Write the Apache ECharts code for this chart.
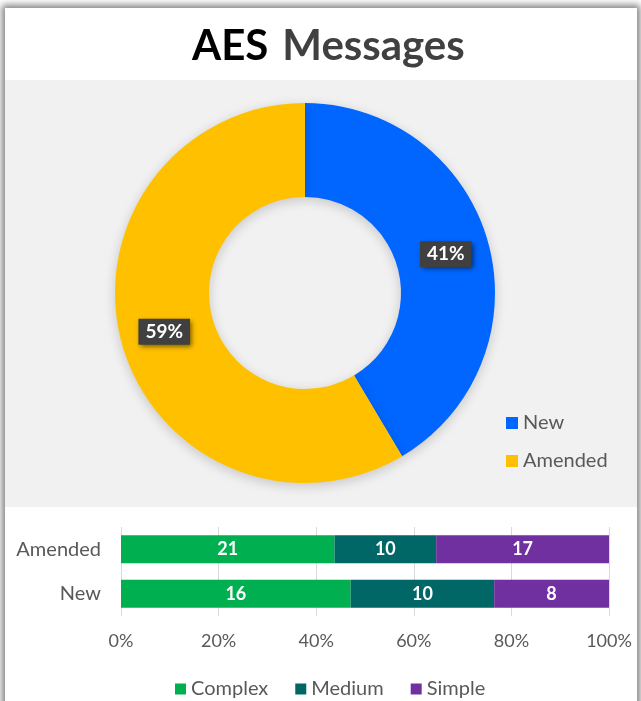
<!DOCTYPE html>
<html>
<head>
<meta charset="utf-8">
<script src="https://cdn.jsdelivr.net/npm/echarts@6/dist/echarts.min.js"></script>
<style>
  html, body { margin: 0; padding: 0; width: 641px; height: 701px; overflow: hidden; background: #fff; }
  #frame { position: absolute; left: 5px; top: 8px; width: 632px; height: 720px; background: #fff;
           box-shadow: 0 0 7px 3px rgba(0,0,0,0.5); }
  #panel { position: absolute; left: 0; top: 72px; width: 632px; height: 427px; background: #f1f1f1; }
  #chart { position: absolute; left: 0; top: 0; width: 641px; height: 701px; }
</style>
</head>
<body>
<div id="frame"><div id="panel"></div></div>
<div id="chart"></div>
<script>
// Message counts by type and complexity
const barCategories = ['Amended', 'New'];
const seriesNames = ['Complex', 'Medium', 'Simple'];
const complexCounts = [21, 16];
const mediumCounts = [10, 10];
const simpleCounts = [17, 8];
const pieNames = ['New', 'Amended'];
const pieColors = ['#0066ff', '#ffc000'];
const barColors = ['#00b050', '#006666', '#7030a0'];
const xTickValues = [0, 20, 40, 60, 80, 100];

const FONT = 'Lato, "Open Sans", sans-serif';
const seriesCounts = [complexCounts, mediumCounts, simpleCounts];

// totals per category (row sums) drive both the donut and the 100% bars
const rowTotals = barCategories.map((_, i) => seriesCounts.reduce((s, arr) => s + arr[i], 0));
const pieData = pieNames.map((n, k) => ({
  name: n,
  value: rowTotals[barCategories.indexOf(n)],
  itemStyle: { color: pieColors[k] }
}));

const barSeries = seriesNames.map((name, si) => ({
  name: name,
  type: 'bar',
  stack: 'total',
  xAxisIndex: 0,
  yAxisIndex: 0,
  barWidth: 28,
  itemStyle: { color: barColors[si] },
  data: seriesCounts[si].map((v, i) => v / rowTotals[i] * 100),
  label: {
    show: true,
    position: 'inside',
    color: '#fff',
    fontFamily: FONT,
    fontWeight: 'bold',
    fontSize: 18,
    formatter: p => String(seriesCounts[si][p.dataIndex])
  }
}));

const chart = echarts.init(document.getElementById('chart'), null, { renderer: 'canvas' });
chart.setOption({
  backgroundColor: 'transparent',
  animation: false,
  title: {
    text: '{a|AES}{b|Messages}',
    left: 187,
    top: 20,
    textStyle: {
      rich: {
        a: { fontFamily: FONT, fontWeight: 'bold', fontSize: 42, color: '#000' },
        b: { fontFamily: FONT, fontWeight: 'bold', fontSize: 42, color: '#404040', padding: [0, 0, 0, 14] }
      }
    }
  },
  legend: [
    {
      data: pieNames,
      orient: 'vertical',
      left: 501,
      top: 408,
      itemWidth: 12,
      itemHeight: 12,
      itemGap: 18,
      icon: 'rect',
      textStyle: { fontFamily: FONT, fontSize: 20, color: '#595959' }
    },
    {
      data: seriesNames,
      orient: 'horizontal',
      left: 170,
      top: 674,
      itemWidth: 11,
      itemHeight: 11,
      itemGap: 27,
      icon: 'rect',
      textStyle: { fontFamily: FONT, fontSize: 20, color: '#595959' }
    }
  ],
  grid: [{ left: 121, right: 32, top: 527, height: 89 }],
  xAxis: [{
    type: 'value',
    gridIndex: 0,
    min: 0,
    max: 100,
    interval: 20,
    axisLine: { show: false },
    axisTick: { show: false },
    splitLine: { show: true, lineStyle: { color: '#d9d9d9', width: 1 } },
    axisLabel: {
      margin: 16,
      fontFamily: FONT,
      fontSize: 18,
      color: '#595959',
      formatter: v => (xTickValues.includes(v) ? v + '%' : '')
    }
  }],
  yAxis: [{
    type: 'category',
    gridIndex: 0,
    data: barCategories,
    inverse: true,
    axisLine: { show: false },
    axisTick: { show: false },
    axisLabel: { margin: 20, fontFamily: FONT, fontSize: 20, color: '#595959' }
  }],
  series: [
    {
      name: 'AES Messages',
      type: 'pie',
      center: [305, 293],
      radius: [96, 190],
      startAngle: 90,
      clockwise: true,
      percentPrecision: 0,
      itemStyle: { shadowBlur: 12, shadowColor: 'rgba(0,0,0,0.18)', shadowOffsetY: 3 },
      label: {
        show: true,
        position: 'inside',
        formatter: '{d}%',
        color: '#fff',
        fontFamily: FONT,
        fontWeight: 'bold',
        fontSize: 19,
        backgroundColor: '#404040',
        padding: [4, 7, 3, 7],
        shadowBlur: 5,
        shadowColor: 'rgba(0,0,0,0.55)',
        shadowOffsetX: 2,
        shadowOffsetY: 2
      },
      labelLine: { show: false },
      emphasis: { disabled: true },
      data: pieData
    },
    ...barSeries
  ]
});
</script>
</body>
</html>
